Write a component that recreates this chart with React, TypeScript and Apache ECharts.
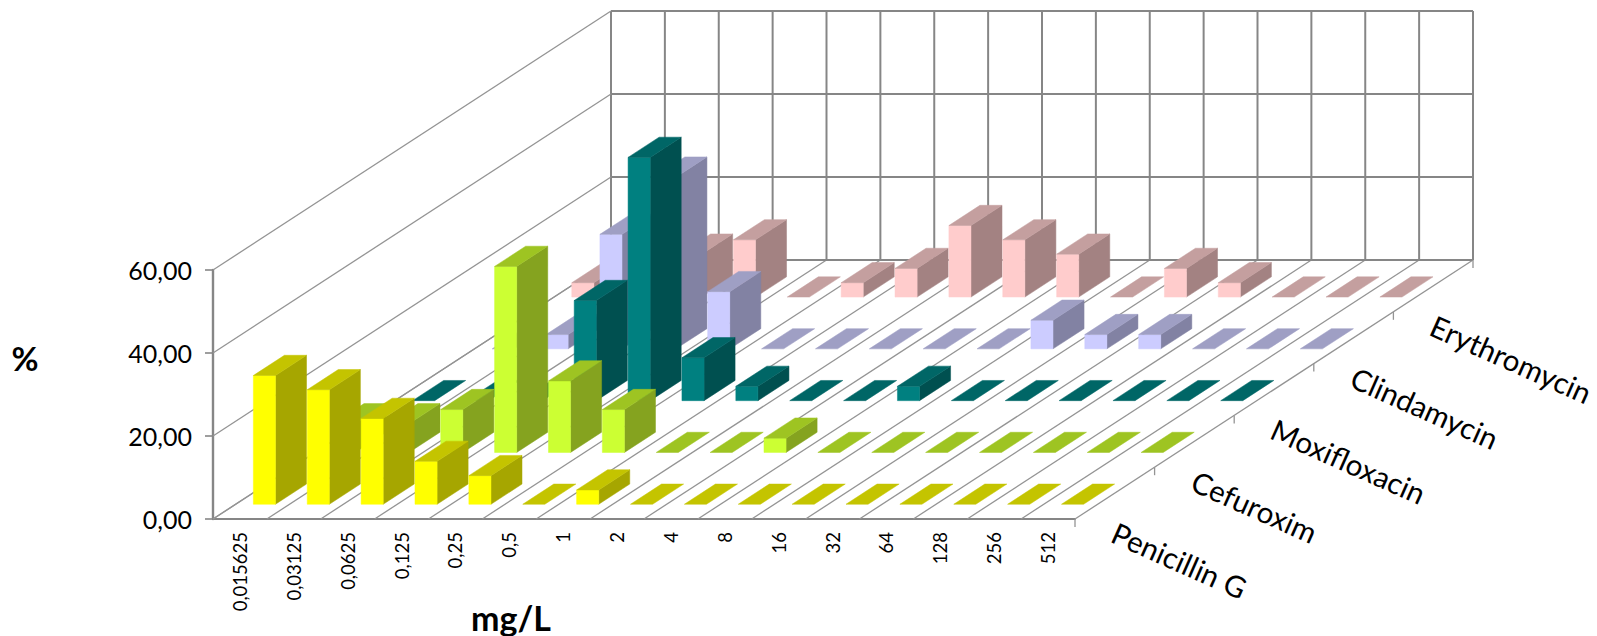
import React, { useEffect, useRef } from "react";
import * as echarts from "echarts";

const concentrations = ["0,015625","0,03125","0,0625","0,125","0,25","0,5","1","2","4","8","16","32","64","128","256","512"];
const rowNames = ["Penicillin G","Cefuroxim","Moxifloxacin","Clindamycin","Erythromycin"];
const penicillin = [31.03,27.59,20.69,10.34,6.9,0,3.45,0,0,0,0,0,0,0,0,0];
const cefuroxim = [6.9,6.9,10.34,44.83,17.24,10.34,0,0,3.45,0,0,0,0,0,0,0];
const moxifloxacin = [0,0,0,24.14,58.62,10.34,3.45,0,0,3.45,0,0,0,0,0,0];
const clindamycin = [0,3.45,27.59,41.38,13.79,0,0,0,0,0,6.9,3.45,3.45,0,0,0];
const erythromycin = [3.45,10.34,10.34,13.79,0,3.45,6.9,17.24,13.79,10.34,0,6.9,3.45,0,0,0];
const rowValues = [penicillin,cefuroxim,moxifloxacin,clindamycin,erythromycin];
const rowColors = [
  { front:"#FFFF00", side:"#A6A600", top:"#C4C400" },
  { front:"#CCFF33", side:"#85A31F", top:"#9EC422" },
  { front:"#008080", side:"#005050", top:"#006666" },
  { front:"#CCCCFF", side:"#8282A3", top:"#9F9FC4" },
  { front:"#FFCCCC", side:"#A38282", top:"#C49F9F" },
];

const DEPTH_X = 398, DEPTH_Y = -259, ROWS = 5;
const ROW_DX = DEPTH_X / ROWS, ROW_DY = DEPTH_Y / ROWS;
const BAR_W = 0.41, BAR_D = 0.39, SHIFT_X = 0.6, SHIFT_Y = 0.8;
const GRAY = "#868686";
const FONT = "Lato, Carlito, sans-serif";

function barRender(row: number) {
  const c = rowColors[row];
  return (_p: any, api: any) => {
    const i = api.value(0), v = api.value(1);
    const band = api.size([1, 0])[0];
    const mid = api.coord([i, 0]);
    const topPt = api.coord([i, v]);
    const cx = mid[0] + (row + 0.3) * ROW_DX + SHIFT_X;
    const oy = (row + 0.3) * ROW_DY + SHIFT_Y;
    const x0 = cx - (band * BAR_W) / 2, x1 = cx + (band * BAR_W) / 2;
    const yB = mid[1] + oy, yT = topPt[1] + oy;
    const dx = BAR_D * ROW_DX, dy = BAR_D * ROW_DY;
    const poly = (pts: number[][], fill: string) => ({
      type: "polygon", shape: { points: pts }, style: { fill, stroke: fill, lineWidth: 0.5 },
    });
    const children: any[] = [];
    if (v > 0) {
      children.push(poly([[x1,yB],[x1+dx,yB+dy],[x1+dx,yT+dy],[x1,yT]], c.side));
      children.push(poly([[x0,yB],[x1,yB],[x1,yT],[x0,yT]], c.front));
    }
    children.push(poly([[x0,yT],[x1,yT],[x1+dx,yT+dy],[x0+dx,yT+dy]], c.top));
    return { type: "group", children };
  };
}

function wallsRender(_p: any, api: any) {
  const band = api.size([1, 0])[0];
  const left = api.coord([0, 0])[0] - band / 2;
  const y0 = api.coord([0, 0])[1];
  const line = (x1: number, y1: number, x2: number, y2: number, w: number, color = GRAY) => ({
    type: "line", shape: { x1, y1, x2, y2 }, style: { stroke: color, lineWidth: w },
  });
  const kids: any[] = [];
  concentrations.concat([""]).forEach((_, k) => {
    const x = left + k * band;
    kids.push(line(x, y0, x + DEPTH_X, y0 + DEPTH_Y, 1.3, "#949494"));
    kids.push(line(x + DEPTH_X, y0 + DEPTH_Y, x + DEPTH_X, api.coord([0, 60])[1] + DEPTH_Y, 2));
  });
  [0, 20, 40, 60].forEach((v) => {
    const y = api.coord([0, v])[1];
    kids.push(line(left, y, left + DEPTH_X, y + DEPTH_Y, 1.3, "#949494"));
    kids.push(line(left + DEPTH_X, y + DEPTH_Y, left + 16 * band + DEPTH_X, y + DEPTH_Y, 1.9));
  });
  const right = left + 16 * band;
  for (let r = 0; r <= ROWS; r++) {
    const x = right + r * ROW_DX, y = y0 + r * ROW_DY;
    kids.push(line(x, y, x, y + 8, 1.3, "#949494"));
  }
  rowNames.forEach((name, r) => {
    kids.push({
      type: "text",
      x: right + (r + 0.5) * ROW_DX - 1,
      y: y0 + (r + 0.5) * ROW_DY + 38,
      rotation: (-24 * Math.PI) / 180,
      style: { text: name, font: `29.5px ${FONT}`, fill: "#000", textAlign: "left", textVerticalAlign: "middle" },
    });
  });
  return { type: "group", children: kids };
}

export default function App() {
  const ref = useRef<HTMLDivElement>(null);
  useEffect(() => {
    const chart = echarts.init(ref.current!, undefined, { renderer: "svg" });
    chart.setOption({
      animation: false,
      backgroundColor: "#fff",
      grid: { left: 213, top: 270, width: 862, height: 249 },
      xAxis: {
        type: "category", data: concentrations, boundaryGap: true,
        axisLine: { lineStyle: { color: GRAY, width: 1.8 } },
        axisTick: { length: 6, lineStyle: { color: GRAY, width: 1.4 } },
        axisLabel: { interval: 0, rotate: 90, margin: 13, fontSize: 18.5, color: "#000", fontFamily: FONT },
      },
      yAxis: {
        type: "value", min: 0, max: 60, interval: 20,
        splitLine: { show: false },
        axisLine: { show: true, lineStyle: { color: GRAY, width: 2.4 } },
        axisTick: { show: true, length: 8, lineStyle: { color: GRAY, width: 1.6 } },
        axisLabel: { margin: 21, fontSize: 25, color: "#000", fontFamily: FONT,
          formatter: (v: number) => v.toFixed(2).replace(".", ",") },
      },
      graphic: [
        { type: "text", x: 25, y: 358, style: { text: "%", font: `bold 33px ${FONT}`, fill: "#000", textAlign: "center", textVerticalAlign: "middle" } },
        { type: "text", x: 511, y: 617, style: { text: "mg/L", font: `bold 34px ${FONT}`, fill: "#000", textAlign: "center", textVerticalAlign: "middle" } },
      ],
      series: [
        { type: "custom", z: 1, silent: true, data: [[0, 0]], renderItem: wallsRender, encode: { x: 0, y: 1 } },
        ...[4, 3, 2, 1, 0].map((row) => ({
          type: "custom", z: 2, silent: true, name: rowNames[row],
          data: rowValues[row].map((v, i) => [i, v]),
          renderItem: barRender(row), encode: { x: 0, y: 1 },
        })),
      ],
    });
    return () => chart.dispose();
  }, []);
  return <div ref={ref} style={{ position: "absolute", left: 0, top: 0, width: 1597, height: 636 }} />;
}
